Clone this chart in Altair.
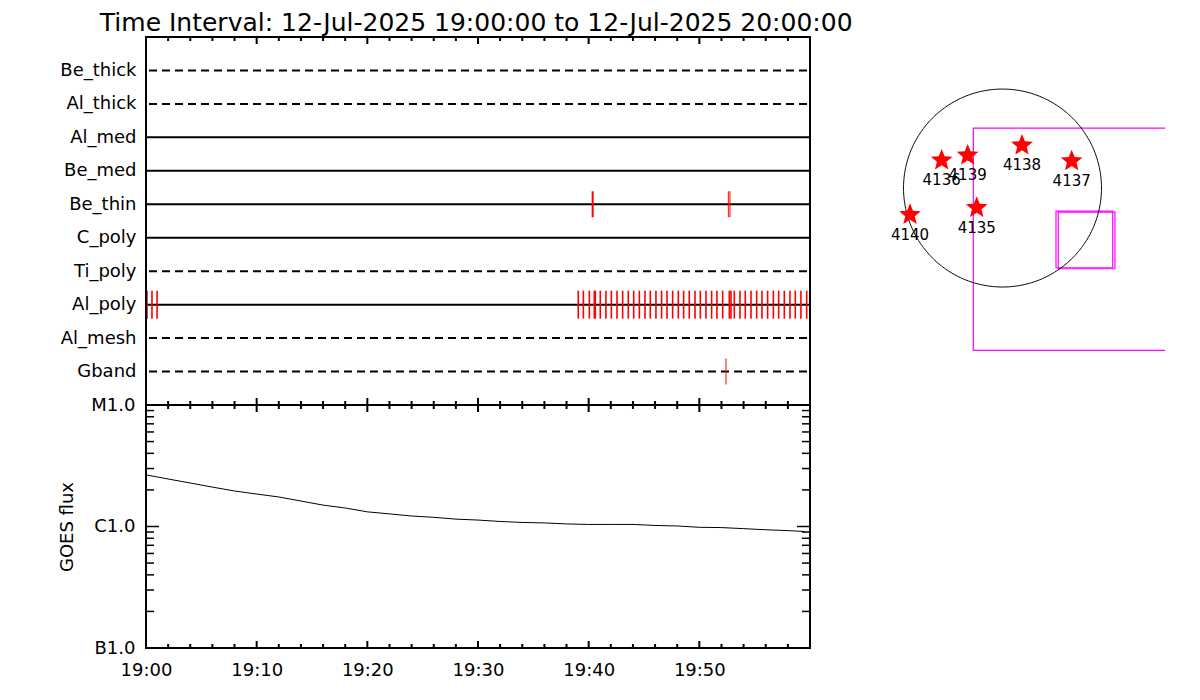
import altair as alt
import numpy as np
import pandas as pd

TITLE = "Time Interval: 12-Jul-2025 19:00:00 to 12-Jul-2025 20:00:00"
FONT = "DejaVu Sans"

# ---------------- top panel data ----------------
channels = ["Be_thick", "Al_thick", "Al_med", "Be_med", "Be_thin",
            "C_poly", "Ti_poly", "Al_poly", "Al_mesh", "Gband"]
channel_dashed = [True, True, False, False, False, False, True, False, True, True]

al_poly_minutes = [0.09, 0.54, 1.00,
                   39.06, 39.52, 40.06, 40.51, 40.60, 41.05, 41.56, 42.05, 42.56,
                   43.07, 43.58, 44.07, 44.58, 45.09, 45.57, 46.08, 46.59, 47.08,
                   47.59, 48.10, 48.58, 49.09, 49.61, 50.09, 50.60, 51.11, 51.59,
                   52.11, 52.71, 52.86, 53.16, 53.67, 54.15, 54.67, 55.18, 55.66,
                   56.17, 56.69, 57.17, 57.68, 58.19, 58.67, 59.18, 59.70]
be_thin_thick_minutes = [40.36]
be_thin_thin_minutes = [52.62, 52.77]
gband_minutes = [52.41]

# ---------------- bottom panel data ----------------
goes_minutes = [0, 2, 4, 6, 8, 10, 12, 14, 16, 18, 20, 22, 24, 26, 28, 30,
                32, 34, 36, 38, 40, 42, 44, 46, 48, 50, 52, 54, 56, 58, 59.5]
goes_flux = [2.66e-6, 2.46e-6, 2.28e-6, 2.11e-6, 1.96e-6, 1.85e-6, 1.75e-6,
             1.62e-6, 1.50e-6, 1.42e-6, 1.32e-6, 1.27e-6, 1.22e-6, 1.19e-6,
             1.15e-6, 1.13e-6, 1.10e-6, 1.08e-6, 1.07e-6, 1.05e-6, 1.04e-6,
             1.04e-6, 1.04e-6, 1.02e-6, 1.01e-6, 0.985e-6, 0.98e-6, 0.96e-6,
             0.94e-6, 0.925e-6, 0.91e-6]

time_tick_minutes = [0, 10, 20, 30, 40, 50]
time_tick_labels = ["19:00", "19:10", "19:20", "19:30", "19:40", "19:50"]
major_time_ticks = [0, 10, 20, 30, 40, 50, 60]
minor_time_ticks = [m for m in range(0, 61, 2) if m % 10]
flux_tick_values = [1e-7, 1e-6, 1e-5]
flux_tick_labels = ["B1.0", "C1.0", "M1.0"]
flux_minor_ticks = [k * d for d in (1e-7, 1e-6) for k in range(2, 10)]

# ---------------- map data (arcsec) ----------------
ar_numbers = ["4135", "4136", "4137", "4138", "4139", "4140"]
ar_x = [-250, -590, 671, 189, -338, -897]
ar_y = [-191, 269, 262, 414, 317, -259]
solar_radius = 960
fov_large_x1, fov_large_x2 = [-283], [2500]
fov_large_y1, fov_large_y2 = [-1574], [582]
fov_small_x1 = [519, 541]
fov_small_x2 = [1069, 1091]
fov_small_y1 = [-773, -783]
fov_small_y2 = [-223, -233]

# ---------------- sizes ----------------
W = 664
H_TOP = 368
H_BOT = 243
MAP_W = 325
MAP_H = 316

# five-pointed star symbol path in the unit square
_pts = []
for k in range(10):
    ang = np.deg2rad(-90 + 36 * k)
    r = 1.0 if k % 2 == 0 else 0.44
    _pts.append(f"{r * np.cos(ang):.3f},{r * np.sin(ang):.3f}")
STAR_PATH = "M" + " L".join(_pts) + " Z"


def nested_expr(values, labels):
    expr = "''"
    for v, lab in reversed(list(zip(values, labels))):
        tol = abs(v) * 0.01 + 1e-12
        expr = f"(abs(datum.value - ({v})) <= {tol}) ? '{lab}' : {expr}"
    return expr


one = pd.DataFrame({"k": [0]})


def frame(w, h):
    """Panel border drawn as four rules."""
    base = alt.Chart(one).mark_rule(color="black", strokeWidth=2, strokeCap="square")
    return [
        base.encode(x=alt.value(0), y=alt.value(0), y2=alt.value(h)),
        base.encode(x=alt.value(w), y=alt.value(0), y2=alt.value(h)),
        base.encode(y=alt.value(0), x=alt.value(0), x2=alt.value(w)),
        base.encode(y=alt.value(h), x=alt.value(0), x2=alt.value(w)),
    ]


# ---------------- top panel ----------------
xs_top = alt.Scale(domain=[0, 60], nice=False, zero=False)
y_cat = alt.Y("channel:N", sort=channels,
              scale=alt.Scale(type="point", padding=1),
              axis=alt.Axis(title=None, ticks=False, domain=False, grid=False,
                            labelFontSize=18, labelPadding=10, labelColor="black",
                            labelFont=FONT))
x_top = alt.X("minute:Q", scale=xs_top, axis=None)

ch_df = pd.DataFrame({"channel": channels, "dashed": channel_dashed})
solid = alt.Chart(ch_df).transform_filter("!datum.dashed").mark_rule(
    color="black", strokeWidth=2).encode(y=y_cat, x=alt.value(0), x2=alt.value(W))
dashed = alt.Chart(ch_df).transform_filter("datum.dashed").mark_rule(
    color="black", strokeWidth=2, strokeDash=[8, 5]).encode(
    y=y_cat, x=alt.value(3), x2=alt.value(W))


def tick_layer(minutes, channel, length, thick):
    df = pd.DataFrame({"minute": minutes, "channel": [channel] * len(minutes)})
    return alt.Chart(df).mark_tick(color="red", thickness=thick, size=length,
                                   opacity=1).encode(x=x_top, y=y_cat)


alp = tick_layer(al_poly_minutes, "Al_poly", 28, 1.6)
bt1 = tick_layer(be_thin_thick_minutes, "Be_thin", 26, 2)
bt2 = tick_layer(be_thin_thin_minutes, "Be_thin", 26, 1)
gb = tick_layer(gband_minutes, "Gband", 26, 1)


def edge_ticks(minutes, y0, y1, xenc):
    df = pd.DataFrame({"minute": minutes})
    return alt.Chart(df).mark_rule(color="black", strokeWidth=2).encode(
        x=xenc, y=alt.value(y0), y2=alt.value(y1))


top = alt.layer(
    solid, dashed, alp, bt1, bt2, gb,
    edge_ticks(minor_time_ticks, 0, 4, x_top), edge_ticks(major_time_ticks, 0, 7, x_top),
    edge_ticks(minor_time_ticks, H_TOP, H_TOP - 4, x_top),
    edge_ticks(major_time_ticks, H_TOP, H_TOP - 7, x_top),
    *frame(W, H_TOP),
).properties(width=W, height=H_TOP)

# ---------------- bottom panel ----------------
xs_bot = alt.Scale(domain=[0, 60], nice=False, zero=False)
x_bot = alt.X("minute:Q", scale=xs_bot,
              axis=alt.Axis(values=time_tick_minutes,
                            labelExpr=nested_expr(time_tick_minutes, time_tick_labels),
                            title=None, ticks=False, domain=False, grid=False,
                            labelFontSize=18, labelFont=FONT, labelPadding=13,
                            labelColor="black", labelFlush=False))
ys_bot = alt.Scale(type="log", domain=[1e-7, 1e-5], nice=False)
y_bot = alt.Y("flux:Q", scale=ys_bot,
              axis=alt.Axis(values=flux_tick_values,
                            labelExpr=nested_expr(flux_tick_values, flux_tick_labels),
                            title="GOES flux", titleFontSize=18, titleFont=FONT,
                            titleFontWeight="normal", titleColor="black", titlePadding=14,
                            ticks=False, domain=False, grid=False,
                            labelFontSize=18, labelFont=FONT, labelPadding=11,
                            labelColor="black", labelFlush=False))

goes_df = pd.DataFrame({"minute": goes_minutes, "flux": goes_flux})
goes = alt.Chart(goes_df).mark_line(color="black", strokeWidth=1).encode(x=x_bot, y=y_bot)


def yticks_bot(values, x0, x1):
    df = pd.DataFrame({"flux": values})
    return alt.Chart(df).mark_rule(color="black", strokeWidth=1.5).encode(
        y=y_bot, x=alt.value(x0), x2=alt.value(x1))


bot = alt.layer(
    goes,
    edge_ticks(minor_time_ticks, 0, 4, x_bot), edge_ticks(major_time_ticks, 0, 7, x_bot),
    edge_ticks(minor_time_ticks, H_BOT, H_BOT - 4, x_bot),
    edge_ticks(major_time_ticks, H_BOT, H_BOT - 7, x_bot),
    yticks_bot(flux_minor_ticks, 0, 8), yticks_bot(flux_tick_values, 0, 13),
    yticks_bot(flux_minor_ticks, W, W - 8), yticks_bot(flux_tick_values, W, W - 13),
    *frame(W, H_BOT),
).properties(width=W, height=H_BOT)

left = alt.vconcat(top, bot, spacing=0, bounds="flush")

# ---------------- map panel ----------------
mx = alt.Scale(domain=[-1576, 1576], nice=False, zero=False)
my = alt.Scale(domain=[-1600, 1465], nice=False, zero=False)
mxe = alt.X("x:Q", scale=mx, axis=None)
mye = alt.Y("y:Q", scale=my, axis=None)

theta = np.linspace(0, 2 * np.pi, 361)
circ_df = pd.DataFrame({"x": solar_radius * np.cos(theta),
                        "y": solar_radius * np.sin(theta),
                        "i": np.arange(361)})
circle = alt.Chart(circ_df).mark_line(color="black", strokeWidth=1).encode(
    x=mxe, y=mye, order="i:Q")

fov_df = pd.DataFrame({"x": fov_large_x1 + fov_small_x1,
                       "x2": fov_large_x2 + fov_small_x2,
                       "y": fov_large_y1 + fov_small_y1,
                       "y2": fov_large_y2 + fov_small_y2})
fov = alt.Chart(fov_df).mark_rect(fillOpacity=0, stroke="#ff00ff", strokeWidth=1.2,
                                  clip=True).encode(
    x=mxe, x2="x2:Q", y=mye, y2="y2:Q")

ar_df = pd.DataFrame({"num": ar_numbers, "x": ar_x, "y": ar_y})
stars = alt.Chart(ar_df).mark_point(shape=STAR_PATH, filled=True, color="red",
                                    size=520, opacity=1).encode(x=mxe, y=mye)
labels = alt.Chart(ar_df).mark_text(dy=20, fontSize=15, font=FONT, color="black").encode(
    x=mxe, y=mye, text="num:N")

solar_map = alt.layer(fov, circle, stars, labels).properties(width=MAP_W, height=MAP_H)

chart = alt.hconcat(left, solar_map, spacing=28).properties(
    title=alt.TitleParams(TITLE, fontSize=25, font=FONT, fontWeight="normal",
                          color="black", anchor="start", dx=41, offset=0),
    padding={"left": 50, "top": 2, "right": 5, "bottom": 5},
    background="white",
).configure(font=FONT).configure_view(strokeWidth=0)

chart.save("out.html", embed_options={"renderer": "svg", "actions": False})
